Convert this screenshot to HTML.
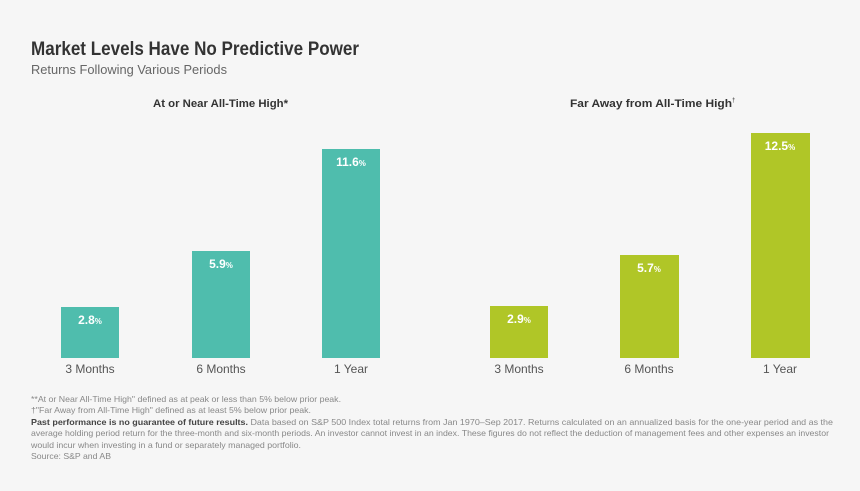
<!DOCTYPE html>
<html><head><meta charset="utf-8"><style>
html,body{margin:0;padding:0;background:#f6f6f6;}
svg{display:block;font-family:"Liberation Sans",sans-serif;}
</style></head><body>
<svg width="860" height="491" viewBox="0 0 860 491" xmlns="http://www.w3.org/2000/svg">
<rect width="860" height="491" fill="#f6f6f6"/>
<text x="31" y="55" font-size="19" font-weight="bold" fill="#333" textLength="328" lengthAdjust="spacingAndGlyphs">Market Levels Have No Predictive Power</text>
<text x="31" y="74" font-size="13" fill="#666" textLength="196" lengthAdjust="spacingAndGlyphs">Returns Following Various Periods</text>
<text x="153" y="107" font-size="11" font-weight="bold" fill="#333" textLength="135" lengthAdjust="spacingAndGlyphs">At or Near All-Time High*</text>
<text x="570" y="107" font-size="11" font-weight="bold" fill="#333" textLength="162" lengthAdjust="spacingAndGlyphs">Far Away from All-Time High</text>
<text x="732" y="102" font-size="6" fill="#333">†</text>
<g fill="#4fbdad">
<rect x="61" y="307" width="58" height="51"/>
<rect x="192" y="251" width="58" height="107"/>
<rect x="322" y="149" width="58" height="209"/>
</g>
<g fill="#b0c627">
<rect x="490" y="306" width="58" height="52"/>
<rect x="620" y="255" width="59" height="103"/>
<rect x="751" y="133" width="59" height="225"/>
</g>
<g fill="#fff" font-weight="bold" font-size="12" text-anchor="middle">
<text x="90" y="324">2.8<tspan font-size="8">%</tspan></text>
<text x="221" y="268">5.9<tspan font-size="8">%</tspan></text>
<text x="351" y="166">11.6<tspan font-size="8">%</tspan></text>
<text x="519" y="323">2.9<tspan font-size="8">%</tspan></text>
<text x="649" y="272">5.7<tspan font-size="8">%</tspan></text>
<text x="780" y="150">12.5<tspan font-size="8">%</tspan></text>
</g>
<g fill="#555" font-size="12" text-anchor="middle">
<text x="90" y="373">3 Months</text>
<text x="221" y="373">6 Months</text>
<text x="351" y="373">1 Year</text>
<text x="519" y="373">3 Months</text>
<text x="649" y="373">6 Months</text>
<text x="780" y="373">1 Year</text>
</g>
<g fill="#888" font-size="8.5">
<text x="31" y="402" textLength="310" lengthAdjust="spacingAndGlyphs">**At or Near All-Time High" defined as at peak or less than 5% below prior peak.</text>
<text x="31" y="413" textLength="280" lengthAdjust="spacingAndGlyphs">†"Far Away from All-Time High" defined as at least 5% below prior peak.</text>
<text x="31" y="425" textLength="802" lengthAdjust="spacingAndGlyphs"><tspan font-weight="bold" fill="#444">Past performance is no guarantee of future results.</tspan> Data based on S&amp;P 500 Index total returns from Jan 1970–Sep 2017. Returns calculated on an annualized basis for the one-year period and as the</text>
<text x="31" y="436" textLength="798" lengthAdjust="spacingAndGlyphs">average holding period return for the three-month and six-month periods. An investor cannot invest in an index. These figures do not reflect the deduction of management fees and other expenses an investor</text>
<text x="31" y="448" textLength="270" lengthAdjust="spacingAndGlyphs">would incur when investing in a fund or separately managed portfolio.</text>
<text x="31" y="459" textLength="80" lengthAdjust="spacingAndGlyphs">Source: S&amp;P and AB</text>
</g>
</svg>
</body></html>
